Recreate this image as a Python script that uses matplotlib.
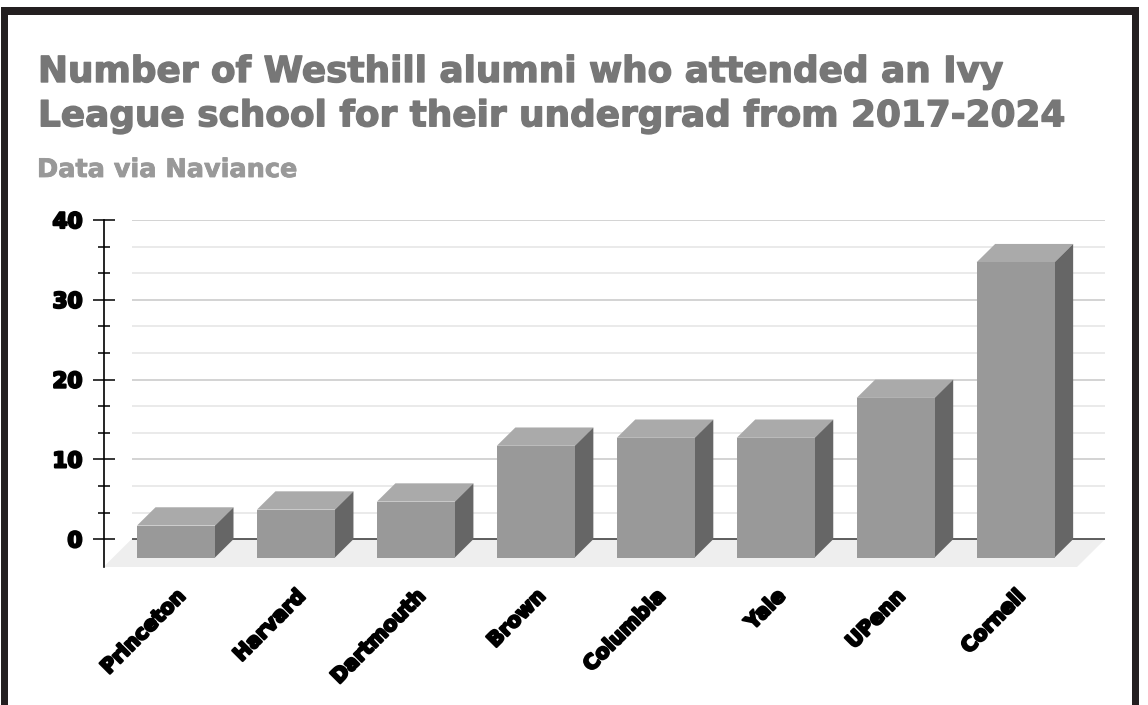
import numpy as np
import matplotlib
matplotlib.use("Agg")
import matplotlib.pyplot as plt
import matplotlib.patheffects as pe
from matplotlib.patches import Polygon, Rectangle

SCHOOLS = ["Princeton", "Harvard", "Dartmouth", "Brown", "Columbia", "Yale", "UPenn", "Cornell"]
ALUMNI = [4, 6, 7, 14, 15, 15, 20, 37]
MAJOR_TICKS = [0, 10, 20, 30, 40]
MINOR_TICKS = [3.33, 6.67, 13.33, 16.67, 23.33, 26.67, 33.33, 36.67]

TITLE = "Number of Westhill alumni who attended an Ivy\nLeague school for their undergrad from 2017-2024"
SUBTITLE = "Data via Naviance"

W, H = 1148, 705
FRAME = "#231f20"
FRONT, TOP, SIDE = "#999999", "#aaaaaa", "#666666"

LEFT, RIGHT, Y40, BOTTOM = 103.5, 1105.0, 220.0, 567.0
Y_SCALE = 7.98      # px per alumnus
X_SCALE = 119.95    # px per category
X0 = 176.0          # pixel centre of the first front face
BAR_W = 78 / X_SCALE
DEPTH_X = 18.5 / X_SCALE
DEPTH_Y = 18.3 / Y_SCALE
FLOOR_X = 28 / X_SCALE
FLOOR_Y = (BOTTOM - (Y40 + 40 * Y_SCALE)) / Y_SCALE


def draw_frame(fig):
    """The thick dark border, open along the bottom edge of the picture."""
    for x, y, w, h in ((1, 0, 7, H - 7), (1132, 0, 7, H - 7), (1, H - 15, 1138, 8)):
        fig.add_artist(Rectangle((x / W, y / H), w / W, h / H, transform=fig.transFigure,
                                 facecolor=FRAME, edgecolor="none"))


def draw_bar(ax, x, value):
    """One oblique box; its back face stands on the zero line."""
    left, right = x - BAR_W / 2, x + BAR_W / 2
    base, top = -DEPTH_Y, value - DEPTH_Y
    ax.add_patch(Polygon([(left, top), (right, top), (right + DEPTH_X, value), (left + DEPTH_X, value)],
                         facecolor=TOP, edgecolor="none", zorder=4))
    ax.add_patch(Polygon([(right, base), (right + DEPTH_X, 0), (right + DEPTH_X, value), (right, top)],
                         facecolor=SIDE, edgecolor="none", zorder=4))
    ax.add_patch(Rectangle((left, base), BAR_W, value, facecolor=FRONT, edgecolor="none", zorder=5))


fig = plt.figure(figsize=(W / 100, H / 100), dpi=100)
draw_frame(fig)

ax = fig.add_axes([LEFT / W, 1 - BOTTOM / H, (RIGHT - LEFT) / W, (BOTTOM - Y40) / H])
ax.patch.set_alpha(0)
ax.set_xlim((LEFT - X0) / X_SCALE, (RIGHT - X0) / X_SCALE)
ax.set_ylim(-FLOOR_Y, 40)

xmin, xmax = ax.get_xlim()
grid_start = xmin + FLOOR_X
ax.hlines(MINOR_TICKS, grid_start, xmax, color="#e6e6e6", lw=1.2, zorder=1)
ax.hlines(MAJOR_TICKS[1:], grid_start, xmax, color="#cccccc", lw=1.2, zorder=1)
ax.add_patch(Polygon([(grid_start, 0), (xmax, 0), (xmax - FLOOR_X, -FLOOR_Y), (xmin, -FLOOR_Y)],
                     facecolor="#eeeeee", edgecolor="none", zorder=2, clip_on=False))
ax.hlines(0, grid_start, xmax, color="#333333", lw=1.1, zorder=3)

positions = np.arange(len(SCHOOLS))
for x, value in zip(positions, ALUMNI):
    draw_bar(ax, x, value)

for side in ("top", "right", "bottom"):
    ax.spines[side].set_visible(False)
ax.spines["left"].set_linewidth(1.2)
ax.spines["left"].set_color("black")

ax.set_yticks(MAJOR_TICKS)
ax.set_yticks(MINOR_TICKS, minor=True)
ax.tick_params(axis="y", which="major", direction="inout", length=16.5, width=1.1, pad=7)
ax.tick_params(axis="y", which="minor", direction="inout", length=9, width=1.1)

ax.set_xticks(positions)
ax.set_xticklabels(SCHOOLS, rotation=45, ha="right", va="top", rotation_mode="anchor")
ax.tick_params(axis="x", length=0, pad=14)

heavy = [pe.withStroke(linewidth=1.6, foreground="black")]
for label in ax.get_xticklabels() + ax.get_yticklabels():
    label.set_fontfamily("DejaVu Sans")
    label.set_fontweight("bold")
    label.set_color("black")
    label.set_path_effects(heavy)
for label in ax.get_xticklabels():
    label.set_fontsize(14.6)
for label in ax.get_yticklabels():
    label.set_fontsize(15.5)

fig.text(38 / W, 1 - 55 / H, TITLE, ha="left", va="top", fontsize=25.8, fontfamily="DejaVu Sans",
         fontweight="bold", color="#777777", linespacing=1.38,
         path_effects=[pe.withStroke(linewidth=1.0, foreground="#777777")])
fig.text(37 / W, 1 - 157 / H, SUBTITLE, ha="left", va="top", fontsize=18.4, fontfamily="DejaVu Sans",
         fontweight="bold", color="#999999",
         path_effects=[pe.withStroke(linewidth=0.6, foreground="#999999")])

fig.savefig("out.png", dpi=100)
